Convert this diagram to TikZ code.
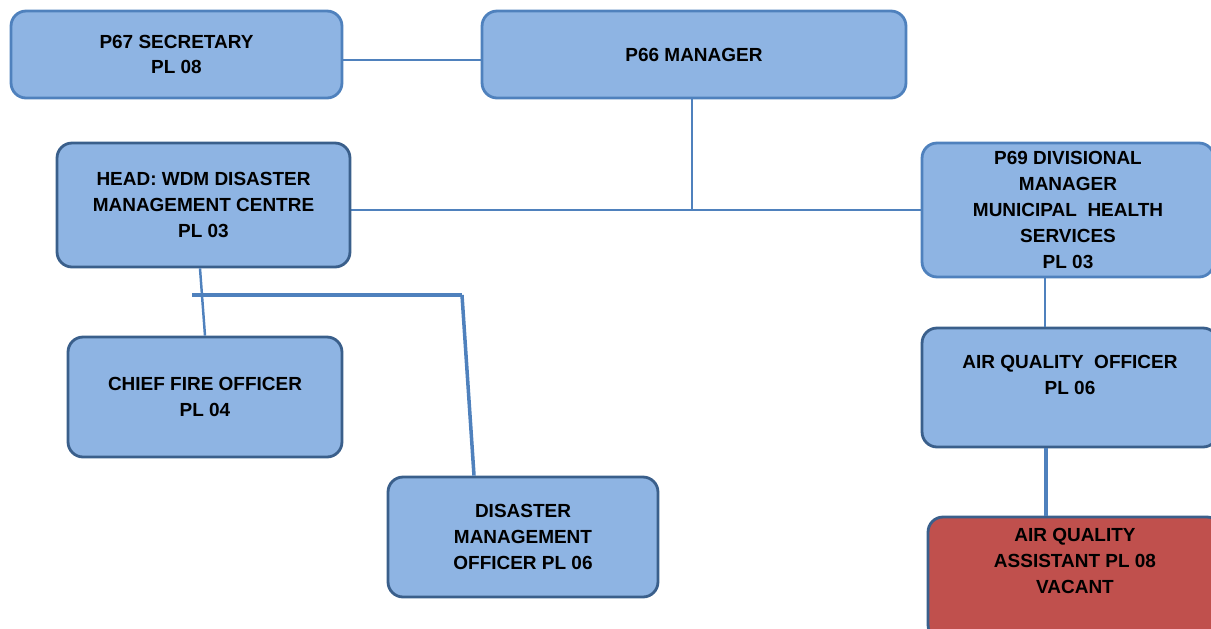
\documentclass[tikz,border=0pt]{standalone}
\usepackage{fontspec}
\setmainfont{Liberation Sans}
\usepackage{tikz}
\usetikzlibrary{calc}
\usepackage{xcolor}
\definecolor{boxfill}{HTML}{8EB4E3}
\definecolor{boxline}{HTML}{4F81BD}
\definecolor{boxdark}{HTML}{3A5F8B}
\definecolor{vacant}{HTML}{C0504D}
\tikzset{
    post/.style={draw=boxline, fill=boxfill, line width=1.6pt, rounded corners=0.3cm,
        align=center, inner sep=2pt, font=\bfseries\fontsize{10.8}{14.7}\selectfont},
    postdark/.style={post, draw=boxdark},
    link/.style={draw=boxline, line width=1.4pt}
}

\begin{document}
\begin{tikzpicture}[x=0.02cm, y=-0.02cm]
    \useasboundingbox (0,0) rectangle (1211,629);

    \coordinate (J) at (692,210);
    \coordinate (BL) at (192,295);
    \coordinate (BR) at (462,295);

    \draw[link] (350,210) -- (922,210);
    \draw[link, line width=2pt] (BL) -- (BR);

    \node[post, minimum width=6.62cm, minimum height=1.74cm] (sec) at (176.5,54.5) {P67 SECRETARY\\PL 08};
    \node[post, minimum width=8.48cm, minimum height=1.74cm] (mgr) at (694,54.5) {P66 MANAGER};
    \node[postdark, minimum width=5.86cm, minimum height=2.48cm] (head) at (203.5,205) {HEAD: WDM DISASTER\\MANAGEMENT CENTRE\\PL 03};
    \node[post, minimum width=5.84cm, minimum height=2.68cm] (div) at (1068,210) {P69 DIVISIONAL\\MANAGER\\MUNICIPAL\ \ HEALTH\\SERVICES\\PL 03};
    \node[postdark, minimum width=5.48cm, minimum height=2.4cm] (chief) at (205,397) {CHIEF FIRE OFFICER\\PL 04};
    \node[postdark, minimum width=5.4cm, minimum height=2.4cm] (dmo) at (523,537) {DISASTER\\MANAGEMENT\\OFFICER PL 06};
    \node[postdark, minimum width=5.92cm, minimum height=2.38cm] (aqo) at (1070,387.5) {AIR QUALITY\ \ OFFICER\\PL 06\\~};
    \node[postdark, fill=vacant, minimum width=5.88cm, minimum height=2.46cm] (aqa) at (1075,578.5) {AIR QUALITY\\ASSISTANT PL 08\\VACANT\\[5pt]~};

    \draw[link] ([yshift=-0.11cm]sec.east) -- ([yshift=-0.11cm]mgr.west);
    \draw[link] (mgr.south -| J) -- (J);
    \draw[link] ([xshift=-0.07cm]head.south) -- (chief.north);
    \draw[link, line width=2pt] (BR) -- ([xshift=-0.98cm]dmo.north);
    \draw[link] ([xshift=-0.46cm]div.south) -- ([xshift=-0.46cm]div.south |- aqo.north);
    \draw[link, line width=2.6pt] ([xshift=-0.48cm]aqo.south) -- ([xshift=-0.48cm]aqo.south |- aqa.north);
\end{tikzpicture}
\end{document}
